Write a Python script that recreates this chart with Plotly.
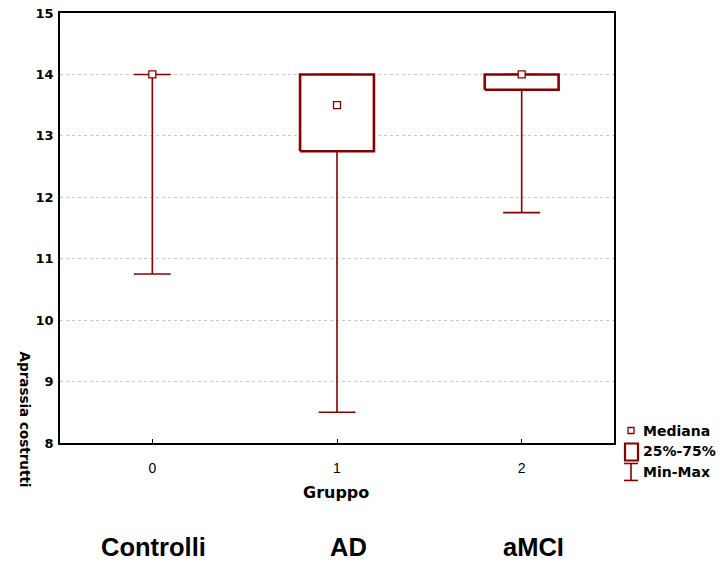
import plotly.graph_objects as go

# ---- data ----
groups = [0, 1, 2]
group_names = ["Controlli", "AD", "aMCI"]
mins = [10.75, 8.5, 11.75]
q1 = [14.0, 12.75, 13.75]
medians = [14.0, 13.5, 14.0]
q3 = [14.0, 14.0, 14.0]
maxs = [14.0, 14.0, 14.0]
y_ticks = [8, 9, 10, 11, 12, 13, 14, 15]
x_ticks = ["0", "1", "2"]

RED = "#880000"
FONT = "Liberation Sans"
WIDE = "DejaVu Sans"
BOX_HW = 0.2
CAP_HW = 0.1

W, H = 726, 564
# plot area in page pixels
PL, PR, PT, PB = 60, 614, 13, 443.5
L, T = PL, PT
R = W - PR
B = H - PB


def px(x):
    return (x - PL) / (PR - PL)


def py(y):
    return (PB - y) / (PB - PT)


fig = go.Figure()

# whiskers
wx, wy = [], []
for g, lo, a, b, hi in zip(groups, mins, q1, q3, maxs):
    wx += [g, g, None, g, g, None, g - CAP_HW, g + CAP_HW, None, g - CAP_HW, g + CAP_HW, None]
    wy += [b, hi, None, a, lo, None, lo, lo, None, hi, hi, None]
fig.add_trace(go.Scatter(x=wx, y=wy, mode="lines", line=dict(color=RED, width=1.6),
                         hoverinfo="skip", showlegend=False))

# boxes
for g, a, b in zip(groups, q1, q3):
    if b > a:
        fig.add_trace(go.Scatter(
            x=[g - BOX_HW, g + BOX_HW, g + BOX_HW, g - BOX_HW, g - BOX_HW],
            y=[a, a, b, b, a], mode="lines", fill="toself", fillcolor="white",
            line=dict(color=RED, width=2.6), hoverinfo="skip", showlegend=False))

# medians
fig.add_trace(go.Scatter(x=groups, y=medians, mode="markers",
                         marker=dict(symbol="square", size=7, color="white",
                                     line=dict(color=RED, width=1.3)),
                         showlegend=False))

# manual legend
shapes = [
    dict(type="rect", xref="paper", yref="paper", x0=px(628), x1=px(634), y0=py(434), y1=py(428),
         line=dict(color=RED, width=1.3), fillcolor="white"),
    dict(type="rect", xref="paper", yref="paper", x0=px(625), x1=px(638), y0=py(461), y1=py(444),
         line=dict(color=RED, width=2.2), fillcolor="white"),
    dict(type="line", xref="paper", yref="paper", x0=px(631), x1=px(631), y0=py(481), y1=py(464),
         line=dict(color=RED, width=1.6)),
    dict(type="line", xref="paper", yref="paper", x0=px(624), x1=px(638), y0=py(464), y1=py(464),
         line=dict(color=RED, width=1.6)),
    dict(type="line", xref="paper", yref="paper", x0=px(624), x1=px(638), y0=py(481), y1=py(481),
         line=dict(color=RED, width=1.6)),
]
annotations = []
for txt, yy in [("Mediana", 431), ("25%-75%", 452), ("Min-Max", 473)]:
    annotations.append(dict(text=txt, xref="paper", yref="paper", x=px(641), y=py(yy),
                            xanchor="left", yanchor="middle", showarrow=False,
                            font=dict(family=WIDE, size=14, color="black", weight="bold")))

# y-axis title (rotated, placed low as in the original)
annotations.append(dict(text="Aprassia costrutti", xref="paper", yref="paper", x=px(25), y=py(420),
                        xanchor="center", yanchor="middle", textangle=90, showarrow=False,
                        font=dict(family=WIDE, size=13.5, color="black", weight="bold")))
# x-axis title
annotations.append(dict(text="Gruppo", xref="paper", yref="paper", x=px(336), y=py(493),
                        xanchor="center", yanchor="middle", showarrow=False,
                        font=dict(family=WIDE, size=16, color="black", weight="bold")))
# group names below
for name, cx in zip(group_names, [153.5, 348, 533]):
    annotations.append(dict(text=name, xref="paper", yref="paper", x=px(cx), y=py(548),
                            xanchor="center", yanchor="middle", showarrow=False,
                            font=dict(family=FONT, size=25.5, color="black", weight="bold")))

fig.update_layout(
    width=W, height=H,
    margin=dict(l=L, r=R, t=T, b=B, pad=0, autoexpand=False),
    paper_bgcolor="white", plot_bgcolor="white",
    showlegend=False,
    shapes=shapes, annotations=annotations,
    xaxis=dict(range=[-0.5, 2.5], tickmode="array", tickvals=groups, ticktext=x_ticks,
               ticks="inside", ticklen=4, tickcolor="black", tickwidth=1,
               showline=True, linecolor="black", linewidth=1.6, mirror=True,
               showgrid=False, zeroline=False, automargin=False,
               ticklabelstandoff=11,
               tickfont=dict(family=FONT, size=14, color="black")),
    yaxis=dict(range=[8, 15], tickmode="array", tickvals=y_ticks,
               ticktext=[str(v) for v in y_ticks],
               ticks="", showline=True, linecolor="black", linewidth=1.6, mirror=True,
               showgrid=True, gridcolor="#c8c8c8", griddash="dot", gridwidth=1,
               zeroline=False, automargin=False, ticklabelstandoff=2,
               ticklabeloverflow="allow",
               tickfont=dict(family=WIDE, size=13, color="black", weight="bold")),
)

# remove the default page margin so the figure sits at the window's top-left corner
fig.write_html("out.html", config={"displayModeBar": False},
               post_script="document.body.style.margin='0';")
